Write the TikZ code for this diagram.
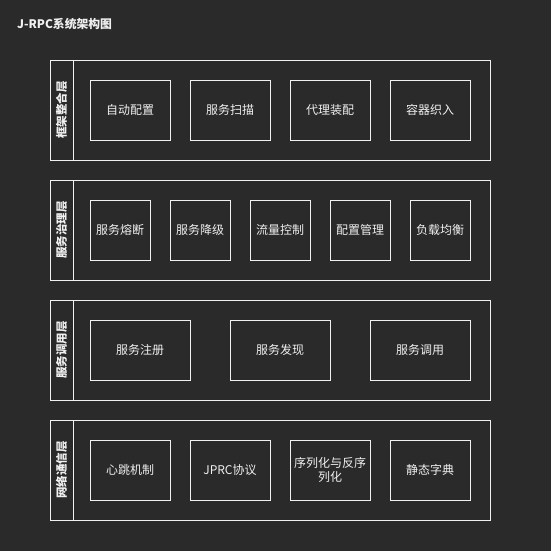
\documentclass[tikz,border=0pt]{standalone}
\usepackage{fontspec}
\setmainfont{Noto Sans CJK SC}
\definecolor{bg}{HTML}{2A2A2A}
\definecolor{fg}{HTML}{F0F0F0}
\begin{document}
\begin{tikzpicture}[x=1pt,y=-1pt,
  layer/.style={draw=fg,line width=0.9pt},
  item/.style={draw=fg,line width=0.9pt,text=fg,font=\fontsize{12}{14}\selectfont,align=center,inner sep=0pt},
  lab/.style={text=fg,font=\bfseries\fontsize{11.5}{14}\selectfont,rotate=90,inner sep=0pt}]
\fill[bg] (0,0) rectangle (551,551);
\useasboundingbox (0,0) rectangle (551,551);
\node[anchor=west,text=fg,font=\bfseries\fontsize{11.8}{13}\selectfont,inner sep=0pt] (title) at (17,24) {J-RPC系统架构图};
% layers
\foreach \n/\y/\t in {1/60/框架整合层,2/180/服务治理层,3/300/服务调用层,4/420/网络通信层}{
  \draw[layer] (50,\y) rectangle (490,\y+100);
  \draw[layer] (73,\y) -- (73,\y+100);
  \node[lab] (L\n) at (61.5,\y+50) {\t};
}
% layer 1
\node[item,minimum width=80pt,minimum height=60pt] (a1) at (130,110) {自动配置};
\node[item,minimum width=80pt,minimum height=60pt] (a2) at (230,110) {服务扫描};
\node[item,minimum width=80pt,minimum height=60pt] (a3) at (330,110) {代理装配};
\node[item,minimum width=80pt,minimum height=60pt] (a4) at (430,110) {容器织入};
% layer 2
\node[item,minimum width=60pt,minimum height=60pt] (b1) at (120,230) {服务熔断};
\node[item,minimum width=60pt,minimum height=60pt] (b2) at (200,230) {服务降级};
\node[item,minimum width=60pt,minimum height=60pt] (b3) at (280,230) {流量控制};
\node[item,minimum width=60pt,minimum height=60pt] (b4) at (360,230) {配置管理};
\node[item,minimum width=60pt,minimum height=60pt] (b5) at (440,230) {负载均衡};
% layer 3
\node[item,minimum width=100pt,minimum height=60pt] (c1) at (140,350) {服务注册};
\node[item,minimum width=100pt,minimum height=60pt] (c2) at (280,350) {服务发现};
\node[item,minimum width=100pt,minimum height=60pt] (c3) at (420,350) {服务调用};
% layer 4
\node[item,minimum width=80pt,minimum height=60pt] (d1) at (130,470) {心跳机制};
\node[item,minimum width=80pt,minimum height=60pt] (d2) at (230,470) {JPRC协议};
\node[item,minimum width=80pt,minimum height=60pt] (d3) at (330,470) {序列化与反序\\列化};
\node[item,minimum width=80pt,minimum height=60pt] (d4) at (430,470) {静态字典};
\end{tikzpicture}
\end{document}
